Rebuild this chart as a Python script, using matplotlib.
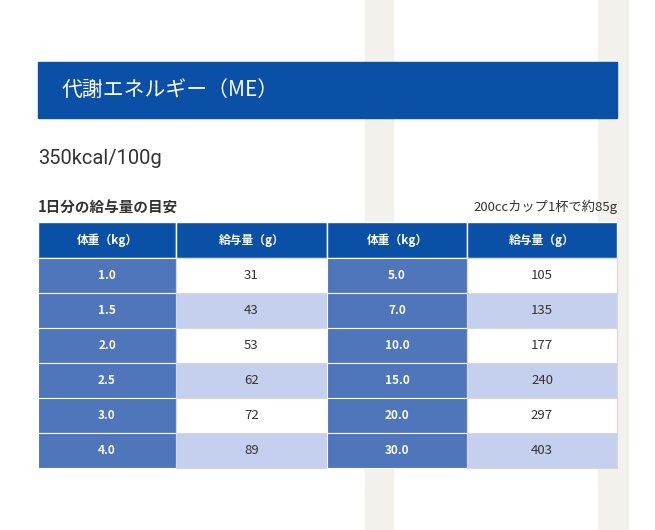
import matplotlib
matplotlib.use("Agg")
import matplotlib.pyplot as plt
from matplotlib.patches import Rectangle

title = "代謝エネルギー（ME）"
energy = "350kcal/100g"
subtitle = "1日分の給与量の目安"
note = "200ccカップ1杯で約85g"
headers = ["体重（kg）", "給与量（g）", "体重（kg）", "給与量（g）"]
weights_left = ["1.0", "1.5", "2.0", "2.5", "3.0", "4.0"]
amounts_left = [31, 43, 53, 62, 72, 89]
weights_right = ["5.0", "7.0", "10.0", "15.0", "20.0", "30.0"]
amounts_right = [105, 135, 177, 240, 297, 403]

plt.rcParams["font.family"] = "Noto Sans CJK JP"
fig = plt.figure(figsize=(6.55, 5.3), dpi=100)
ax = fig.add_axes([0, 0, 1, 1])
ax.set_xlim(0, 655); ax.set_ylim(530, 0); ax.axis("off")

# faint watermark stripes
ax.add_patch(Rectangle((365, 0), 28, 530, color="#f3f1eb", zorder=0))
ax.add_patch(Rectangle((598, 0), 30, 530, color="#f3f1eb", zorder=0))

ax.add_patch(Rectangle((38, 62), 579, 56, color="#0a50a6", zorder=1))
ax.text(62, 90, title, color="white", fontsize=15, va="center", zorder=2)
ax.text(38, 158, energy, color="#333333", fontsize=14.5, va="center", family="Roboto")
ax.text(38, 207, subtitle, color="#333333", fontsize=10.5, fontweight="bold", va="center")
ax.text(617, 207, note, color="#333333", fontsize=9.5, va="center", ha="right")

cols = [38, 176, 327, 467, 617]
top, hh, rh = 222, 36, 35
for i, h in enumerate(headers):
    ax.add_patch(Rectangle((cols[i], top), cols[i+1]-cols[i], hh, facecolor="#0a50a6", edgecolor="white", lw=1, zorder=1))
    ax.text((cols[i]+cols[i+1])/2, top+hh/2, h, color="white", fontsize=8.5, fontweight="bold", ha="center", va="center", zorder=2)
for r in range(len(weights_left)):
    y = top + hh + r*rh
    alt = "#c5cfee" if r % 2 else "white"
    vals = [weights_left[r], amounts_left[r], weights_right[r], amounts_right[r]]
    for c in range(4):
        kg = c % 2 == 0
        fc = "#4f75bb" if kg else alt
        ax.add_patch(Rectangle((cols[c], y), cols[c+1]-cols[c], rh, facecolor=fc, edgecolor="#d8d8d8" if not kg else "white", lw=0.8, zorder=1))
        ax.text((cols[c]+cols[c+1])/2, y+rh/2, str(vals[c]), color="white" if kg else "#333333",
                fontsize=8.5 if kg else 9.5, fontweight="bold" if kg else "normal", ha="center", va="center", zorder=2)

fig.savefig("out.png", dpi=100)
